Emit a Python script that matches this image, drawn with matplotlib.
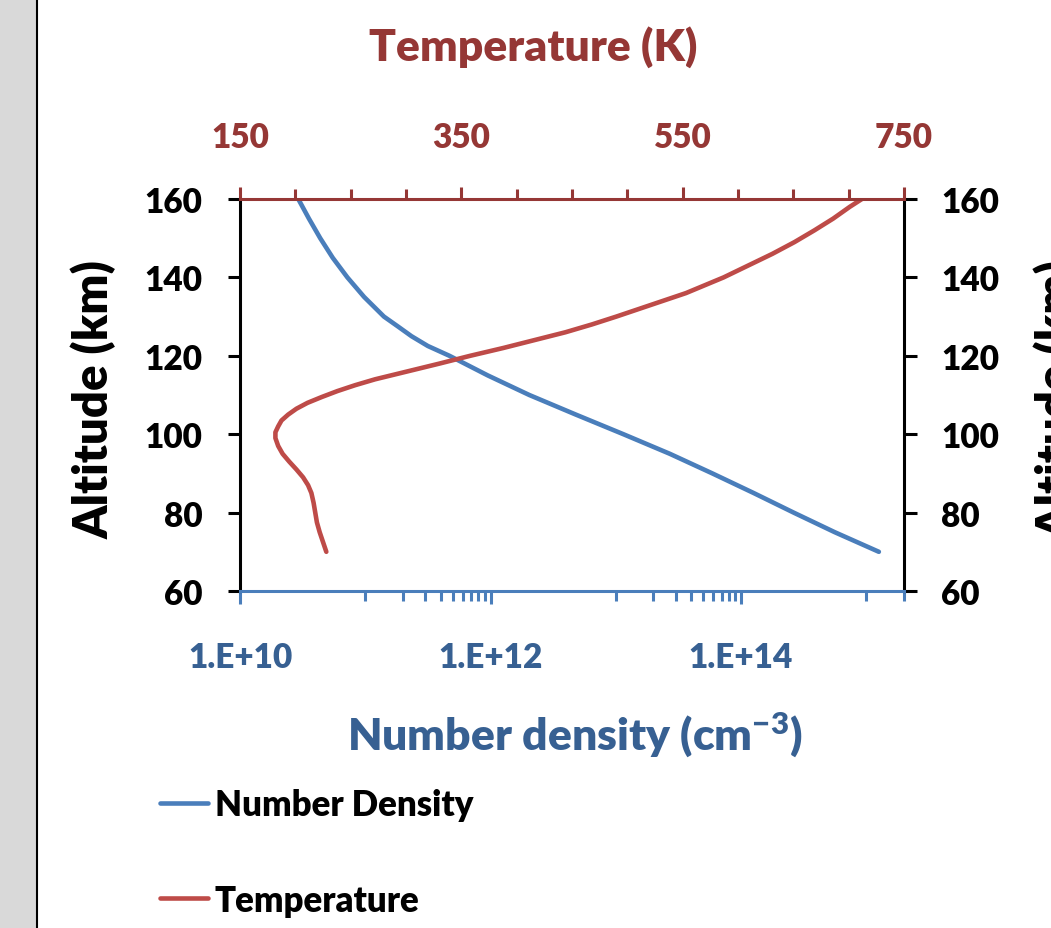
import matplotlib
matplotlib.use("Agg")
import matplotlib.pyplot as plt
from matplotlib.patches import Rectangle
from matplotlib.lines import Line2D
from matplotlib.ticker import FixedLocator, NullFormatter

plt.rcParams['font.family'] = ['Lato', 'DejaVu Sans']
plt.rcParams['font.weight'] = 'heavy'
plt.rcParams['mathtext.fontset'] = 'custom'
plt.rcParams['mathtext.rm'] = 'Lato:heavy'
plt.rcParams['mathtext.default'] = 'rm'

# --- data ---
dens_alt = [70, 75, 80, 85, 90, 95, 100, 105, 110, 115, 120, 122.5, 125, 127.5, 130,
            135, 140, 145, 150, 155, 160]
dens_val = [1.26e15, 5.6e14, 2.63e14, 1.26e14, 5.9e13, 2.7e13, 1.15e13, 4.8e12, 2.04e12, 9.5e11,
            4.7e11, 3.16e11, 2.34e11, 1.82e11, 1.41e11, 9.8e10, 7.2e10, 5.5e10, 4.37e10, 3.55e10, 2.92e10]

temp_alt = [70, 72.5, 75, 77.5, 80, 82.5, 85, 87, 89, 91, 93, 95, 97, 99, 100.5, 102, 103.5,
            105, 106.5, 108, 109.5, 111, 112.5, 114, 116, 118, 120, 122, 124, 126, 128, 130,
            132, 134, 136, 138, 140, 143, 146, 149, 152, 155, 158, 160]
temp_val = [228, 225, 222, 219.5, 218, 216.5, 214.5, 211.5, 207, 201, 194.5, 188.5, 184.5, 182, 182,
            184.5, 187.5, 193.5, 201, 211, 224, 238, 254, 272, 301, 330, 358, 388, 416, 444, 468,
            490, 511, 532, 553, 570, 587, 609, 631, 651, 669, 686, 701, 712]

alt_ticks = [60, 80, 100, 120, 140, 160]
dens_major = [1e10, 1e12, 1e14]
dens_labels = ["1.E+10", "1.E+12", "1.E+14"]
temp_major = [150, 350, 550, 750]
temp_minor = [200, 250, 300, 400, 450, 500, 600, 650, 700]

BLUE = '#4a7ebb'
RED = '#be4b48'
DKRED = '#953735'
DKBLUE = '#376092'

W, H = 1051, 929
fig = plt.figure(figsize=(W / 100, H / 100), dpi=100)

# grey strip on the left of the page
fig.patches.append(Rectangle((0, 0), 36 / W, 1, transform=fig.transFigure, color='#d9d9d9', zorder=0))
fig.add_artist(Line2D([37 / W, 37 / W], [0, 1], color='black', lw=1.5))

ax = fig.add_axes([240 / W, 1 - 592 / H, 664 / W, 392 / H])
ax.plot(dens_val, dens_alt, color=BLUE, lw=3.3, solid_capstyle='round', solid_joinstyle='round',
        label='Number Density')
ax.set_xscale('log')
ax.set_xlim(1e10, 2e15)
ax.set_ylim(60, 160)

ax2 = ax.twiny()
ax2.plot(temp_val, temp_alt, color=RED, lw=3.3, solid_capstyle='round', solid_joinstyle='round',
         label='Temperature')
ax2.set_xlim(150, 750)

# spines
for s in ['left', 'right']:
    ax.spines[s].set_color('black')
    ax.spines[s].set_linewidth(2.2)
ax.spines['top'].set_visible(False)
ax.spines['bottom'].set_color(BLUE)
ax.spines['bottom'].set_linewidth(2.2)
for s in ['left', 'right', 'bottom']:
    ax2.spines[s].set_visible(False)
ax2.spines['top'].set_color(DKRED)
ax2.spines['top'].set_linewidth(2.2)

# y axes (both sides)
ax.set_yticks(alt_ticks)
ax.tick_params(axis='y', which='both', left=True, right=True, labelleft=True, labelright=True,
               direction='out', length=9, width=2.2, color='black', labelsize=24, pad=18)

# bottom log axis
ax.xaxis.set_major_locator(FixedLocator(dens_major))
ax.set_xticklabels(dens_labels)
ax.xaxis.set_minor_locator(FixedLocator([k * 10.0 ** e for e in (11, 13) for k in range(1, 10)] + [1e15, 2e15]))
ax.xaxis.set_minor_formatter(NullFormatter())
ax.tick_params(axis='x', which='major', direction='out', length=9, width=2.2, color=BLUE,
               labelcolor=DKBLUE, labelsize=24, pad=27)
ax.tick_params(axis='x', which='minor', direction='out', length=7, width=2.2, color=BLUE)

# top temperature axis
ax2.set_xticks(temp_major)
ax2.set_xticks(temp_minor, minor=True)
ax2.tick_params(axis='x', which='major', direction='out', length=9, width=2.2, color=DKRED,
                labelcolor=DKRED, labelsize=24, pad=24)
ax2.tick_params(axis='x', which='minor', direction='out', length=7, width=2.2, color=DKRED)

# axis titles
fig.text(533 / W, 1 - 47 / H, 'Temperature (K)', color=DKRED, fontsize=32, ha='center', va='center')
fig.text(575 / W, 1 - 735 / H, 'Number density (cm$^{-3}$)', color=DKBLUE, fontsize=32,
         ha='center', va='center')
fig.text(94 / W, 1 - 400 / H, 'Altitude (km)', color='black', fontsize=34, rotation=90,
         ha='center', va='center')
fig.text(1034 / W, 1 - 400 / H, 'Altitude (km)', color='black', fontsize=34, rotation=90,
         ha='left', va='center')

# legend below the plot
h1, l1 = ax.get_legend_handles_labels()
h2, l2 = ax2.get_legend_handles_labels()
fig.legend(h1 + h2, l1 + l2, loc='upper left', bbox_to_anchor=(160 / W, 1 - 789 / H),
           frameon=False, fontsize=25, handlelength=1.38, handletextpad=0.2, labelspacing=1.8,
           borderaxespad=0, borderpad=0)

fig.savefig('out.png', dpi=100)
